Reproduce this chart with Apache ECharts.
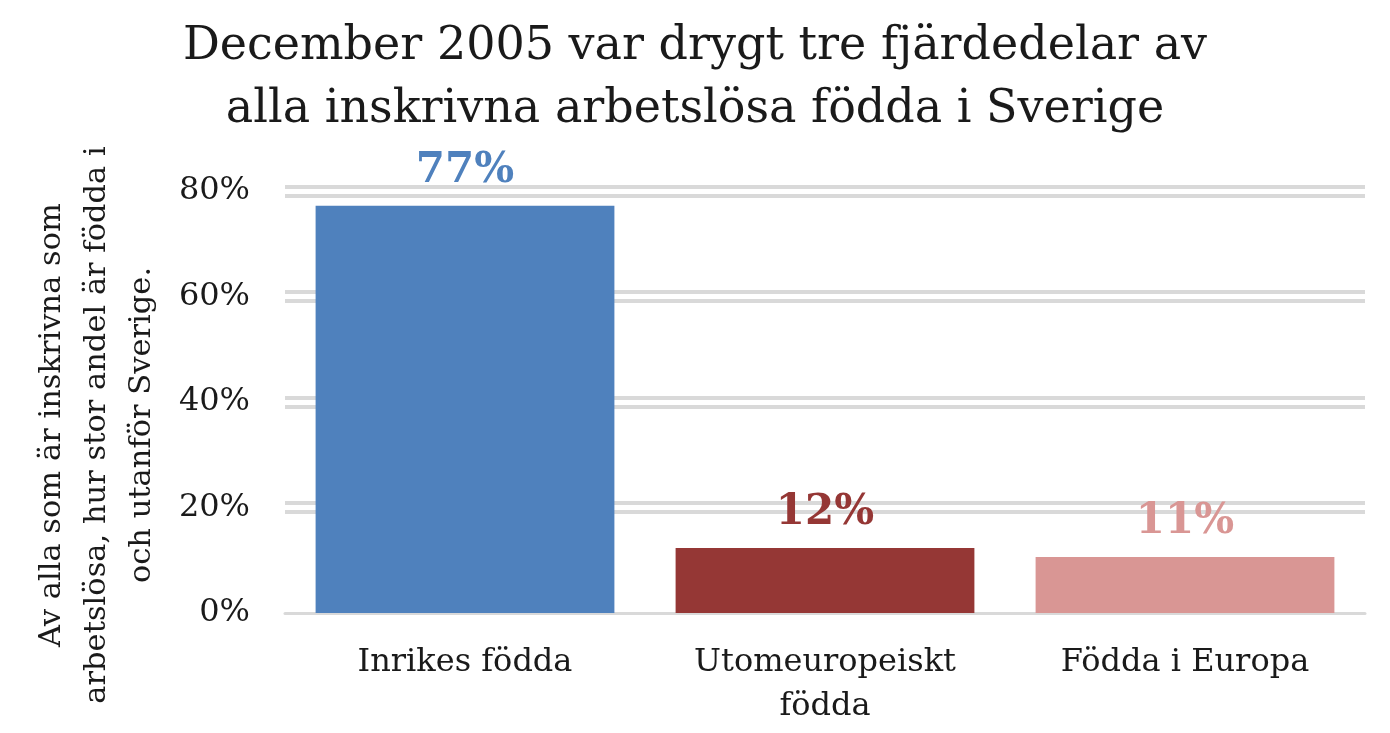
<!DOCTYPE html>
<html>
<head>
<meta charset="utf-8">
<script src="https://cdn.jsdelivr.net/npm/echarts@6/dist/echarts.min.js"></script>
<style>
  html, body { margin: 0; padding: 0; background: #fff; }
  #chart { width: 1390px; height: 733px; }
</style>
</head>
<body>
<div id="chart"></div>
<script>
// kategorier och andelar (procent)
var categories = ['Inrikes födda', 'Utomeuropeiskt\nfödda', 'Födda i Europa'];
var shares = [77.2, 12.3, 10.6];
var barColors = ['#4F81BD', '#953735', '#D99694'];
var yTicks = [0, 20, 40, 60, 80];

var FONT = '"DejaVu Serif", "Liberation Serif", serif';
var GRID_COLOR = '#D9D9D9';

var chart = echarts.init(document.getElementById('chart'));

// dubbla stödlinjer: två osynliga rutnät förskjutna +/- 4.5 px
var gridLineAxis = function(idx) {
  return {
    type: 'value',
    gridIndex: idx,
    min: yTicks[0],
    max: yTicks[yTicks.length - 1],
    interval: 20,
    axisLine: { show: false },
    axisTick: { show: false },
    axisLabel: { show: false },
    splitLine: {
      lineStyle: {
        // 0 % ritas av x-axeln
        color: ['rgba(0,0,0,0)', GRID_COLOR, GRID_COLOR, GRID_COLOR, GRID_COLOR],
        width: 4
      }
    }
  };
};
var hiddenX = function(idx) {
  return { type: 'category', gridIndex: idx, data: categories, show: false };
};

var option = {
  animation: false,
  title: {
    text: 'December 2005 var drygt tre fjärdedelar av\nalla inskrivna arbetslösa födda i Sverige',
    left: 'center',
    top: 11,
    textStyle: {
      fontFamily: FONT,
      fontWeight: 'normal',
      fontSize: 46,
      lineHeight: 63,
      color: '#1a1a1a'
    }
  },
  grid: [
    { left: 285, right: 25, top: 191, bottom: 120 },
    { left: 285, right: 25, top: 186.5, bottom: 124.5 },
    { left: 285, right: 25, top: 195.5, bottom: 115.5 }
  ],
  xAxis: [{
    type: 'category',
    gridIndex: 0,
    data: categories,
    axisLine: { lineStyle: { color: GRID_COLOR, width: 3 } },
    axisTick: { show: false },
    axisLabel: {
      fontFamily: FONT,
      fontSize: 32,
      lineHeight: 44,
      color: '#1a1a1a',
      margin: 28
    }
  }, hiddenX(1), hiddenX(2)],
  yAxis: [{
    type: 'value',
    gridIndex: 0,
    min: yTicks[0],
    max: yTicks[yTicks.length - 1],
    interval: 20,
    axisLine: { show: false },
    axisTick: { show: false },
    axisLabel: {
      fontFamily: FONT,
      fontSize: 32,
      color: '#1a1a1a',
      margin: 35,
      formatter: '{value}%'
    },
    splitLine: { show: false },
    z: 3
  }, gridLineAxis(1), gridLineAxis(2)],
  series: [{
    type: 'bar',
    xAxisIndex: 0,
    yAxisIndex: 0,
    barWidth: '83%',
    z: 5,
    data: shares.map(function(v, i) {
      return {
        value: v,
        itemStyle: { color: barColors[i] },
        label: { color: barColors[i] }
      };
    }),
    label: {
      show: true,
      position: 'top',
      distance: 14,
      fontFamily: FONT,
      fontWeight: 'bold',
      fontSize: 42,
      formatter: function(p) { return Math.round(p.value) + '%'; }
    }
  }],
  graphic: [{
    type: 'text',
    x: 97,
    y: 425,
    rotation: Math.PI / 2,
    style: {
      text: 'Av alla som är inskrivna som\narbetslösa, hur stor andel är födda i\noch utanför Sverige.',
      fontFamily: FONT,
      fontSize: 30.5,
      lineHeight: 45,
      fill: '#1a1a1a',
      textAlign: 'center',
      textVerticalAlign: 'middle'
    }
  }]
};

chart.setOption(option);
</script>
</body>
</html>
